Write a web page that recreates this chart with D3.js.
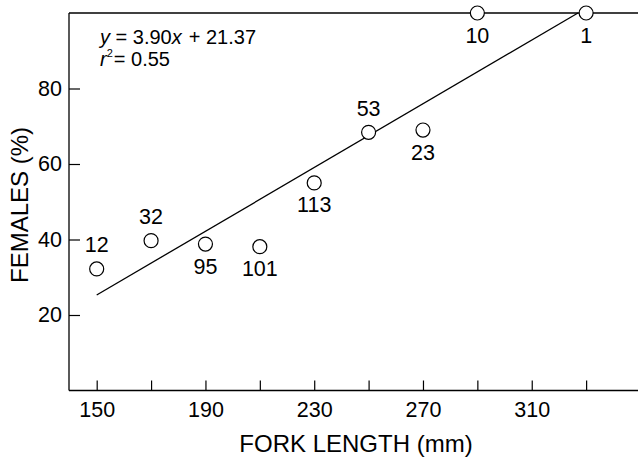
<!DOCTYPE html>
<html>
<head>
<meta charset="utf-8">
<script src="https://cdn.jsdelivr.net/npm/d3@7/dist/d3.min.js"></script>
<style>
  html, body { margin: 0; padding: 0; background: #fff; }
  svg { display: block; font-family: "Liberation Sans", Arial, sans-serif; }
</style>
</head>
<body>
<svg id="chart" width="638" height="461"></svg>
<script>
// ---- data ----
const forkLength = [150, 170, 190, 210, 230, 250, 270, 290, 330];
const femalesPct = [32.2, 39.7, 38.8, 38.1, 55.0, 68.4, 69.0, 100, 100];
const sampleN    = ["12", "32", "95", "101", "113", "53", "23", "10", "1"];
const labelSide  = ["above", "above", "below", "below", "below", "above", "below", "below", "below"];
const fitLineX   = [150, 327];
const fitLineY   = [25.3, 100];
const xTicks      = [150, 170, 190, 210, 230, 250, 270, 290, 310, 330];
const xTickLabels = [150, 190, 230, 270, 310];
const yTicks      = [20, 40, 60, 80];
const xTitle = "FORK LENGTH (mm)";
const yTitle = "FEMALES (%)";

(function () {
// ---- layout ----
const svg = d3.select("#chart");
const pLeft = 69, pTop = 13, pBottom = 390.5, pRight = 640.5;
const x = d3.scaleLinear().domain([140, 350]).range([pLeft + 0.5, pRight]);
const y = d3.scaleLinear().domain([0, 100]).range([pBottom, pTop]);
const FONT = "'Liberation Sans', Arial, sans-serif";

// frame lines (left, top)
const frame = svg.append("g").attr("stroke", "#000").attr("stroke-width", 1.3).attr("fill", "none");
frame.append("line").attr("x1", pLeft).attr("x2", pLeft).attr("y1", y(100)).attr("y2", y(0));
frame.append("line").attr("x1", pLeft).attr("x2", 638).attr("y1", y(100)).attr("y2", y(100));

// x axis
const xAxis = d3.axisBottom(x)
  .tickValues(xTicks)
  .tickFormat(d => xTickLabels.includes(d) ? String(d) : "")
  .tickSize(-10)
  .tickPadding(11);
const gx = svg.append("g").attr("transform", `translate(0,${pBottom})`).call(xAxis);
gx.select(".domain").attr("d", `M${pLeft},0H638`).attr("stroke-width", 1.3);
gx.selectAll(".tick line").attr("stroke-width", 1.2);
gx.selectAll("text").attr("font-size", 21.5).attr("fill", "#000").attr("font-family", FONT);

// y axis
const yAxis = d3.axisLeft(y).tickValues(yTicks).tickSize(-11).tickPadding(7);
const gy = svg.append("g").attr("transform", `translate(${pLeft},0)`).call(yAxis);
gy.select(".domain").remove();
gy.selectAll(".tick line").attr("stroke-width", 1.2);
gy.selectAll("text").attr("font-size", 21.5).attr("fill", "#000").attr("font-family", FONT);

// fit line
const fitData = fitLineX.map((v, i) => [v, fitLineY[i]]);
svg.append("path")
  .datum(fitData)
  .attr("fill", "none").attr("stroke", "#000").attr("stroke-width", 1.3)
  .attr("d", d3.line().x(d => x(d[0])).y(d => y(d[1])));

// points
const pts = forkLength.map((v, i) => ({ fl: v, pct: femalesPct[i], n: sampleN[i], side: labelSide[i] }));
svg.append("g").selectAll("circle").data(pts).join("circle")
  .attr("cx", d => x(d.fl)).attr("cy", d => y(d.pct)).attr("r", 7)
  .attr("fill", "#fff").attr("stroke", "#000").attr("stroke-width", 1.2);

svg.append("g").selectAll("text").data(pts).join("text")
  .attr("x", d => x(d.fl))
  .attr("y", d => y(d.pct) + (d.side === "above" ? -16.5 : 29.5))
  .attr("text-anchor", "middle").attr("font-size", 21.5).attr("fill", "#000")
  .text(d => d.n);

// equation
const eq = svg.append("text").attr("x", 100).attr("y", 43.5).attr("font-size", 20).attr("fill", "#000");
eq.append("tspan").attr("font-style", "italic").text("y");
eq.append("tspan").text(" = 3.90");
eq.append("tspan").attr("font-style", "italic").text("x");
eq.append("tspan").attr("dx", 7).text("+ 21.37");

const r2 = svg.append("text").attr("x", 100).attr("y", 66).attr("font-size", 20).attr("fill", "#000");
r2.append("tspan").attr("font-style", "italic").text("r");
r2.append("tspan").attr("font-size", 11).attr("dy", -9).text("2");
r2.append("tspan").attr("dy", 9).attr("dx", 1).text("= 0.55");

// axis titles
svg.append("text").attr("x", 356).attr("y", 451.5).attr("text-anchor", "middle")
  .attr("font-size", 24).attr("fill", "#000").text(xTitle);
svg.append("text").attr("transform", `translate(28,205) rotate(-90)`).attr("text-anchor", "middle")
  .attr("font-size", 24).attr("fill", "#000").text(yTitle);
})();
</script>
</body>
</html>
